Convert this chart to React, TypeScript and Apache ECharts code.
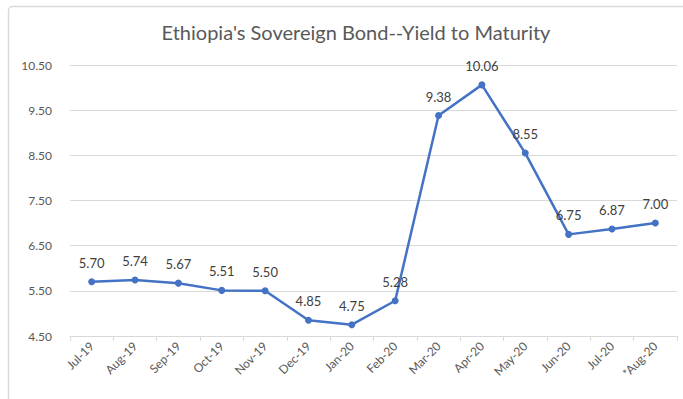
import React, { useEffect, useRef } from "react";
import * as echarts from "echarts";

const categories = ["Jul-19", "Aug-19", "Sep-19", "Oct-19", "Nov-19", "Dec-19", "Jan-20", "Feb-20", "Mar-20", "Apr-20", "May-20", "Jun-20", "Jul-20", "*Aug-20"];
const yields = [5.70, 5.74, 5.67, 5.51, 5.50, 4.85, 4.75, 5.28, 9.38, 10.06, 8.55, 6.75, 6.87, 7.00];
const titleText = "Ethiopia's Sovereign Bond--Yield to Maturity";

export default function App() {
  const ref = useRef<HTMLDivElement>(null);
  useEffect(() => {
    const chart = echarts.init(ref.current!, null, { renderer: "svg" });
    const font = "Lato, 'Open Sans', sans-serif";
    chart.setOption({
      animation: false,
      backgroundColor: "#ffffff",
      title: {
        text: titleText,
        left: 351,
        textAlign: "center",
        top: 17,
        textStyle: { fontFamily: font, fontSize: 20, fontWeight: "normal", color: "#595959" },
      },
      graphic: [
        {
          type: "rect",
          shape: { x: 8.5, y: 6.5, width: 720, height: 440, r: 4 },
          style: { fill: "none", stroke: "#d9d9d9", lineWidth: 1.5 },
          silent: true,
        },
      ],
      grid: { left: 70, right: 6, top: 65, bottom: 63, containLabel: false },
      xAxis: {
        type: "category",
        data: categories,
        boundaryGap: true,
        axisLine: { lineStyle: { color: "#d9d9d9", width: 1 } },
        axisTick: { show: true, alignWithLabel: false, length: 5, lineStyle: { color: "#d9d9d9" } },
        axisLabel: { rotate: 45, interval: 0, margin: 8, fontFamily: font, fontSize: 12, color: "#595959" },
      },
      yAxis: {
        type: "value",
        min: 4.5,
        max: 10.5,
        interval: 1,
        axisLine: { show: false },
        axisTick: { show: false },
        splitLine: { lineStyle: { color: "#d9d9d9", width: 1 } },
        axisLabel: {
          margin: 18,
          fontFamily: font,
          fontSize: 12,
          color: "#595959",
          formatter: (v: number) => v.toFixed(2),
        },
      },
      series: [
        {
          type: "line",
          data: yields,
          symbol: "circle",
          symbolSize: 7,
          lineStyle: { color: "#4472C4", width: 2.5 },
          itemStyle: { color: "#4472C4" },
          label: {
            show: true,
            position: "top",
            distance: 9,
            fontFamily: font,
            fontSize: 13,
            color: "#404040",
            formatter: (p: any) => Number(p.value).toFixed(2),
          },
        },
      ],
    });
    return () => chart.dispose();
  }, []);
  return <div ref={ref} style={{ position: "fixed", left: 0, top: 0, width: 683, height: 399, background: "#fff" }} />;
}
